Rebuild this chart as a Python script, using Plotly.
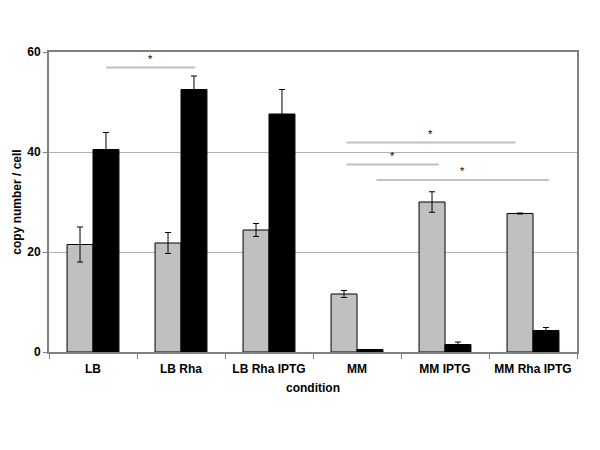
import plotly.graph_objects as go

conditions = ["LB", "LB Rha", "LB Rha IPTG", "MM", "MM IPTG", "MM Rha IPTG"]
gray_vals = [21.5, 21.8, 24.4, 11.6, 30.0, 27.7]
gray_err = [3.5, 2.1, 1.3, 0.7, 2.05, 0.1]
black_vals = [40.5, 52.5, 47.6, 0.5, 1.5, 4.3]
black_err = [3.4, 2.7, 4.9, 0.0, 0.5, 0.6]

# significance brackets: x0, x1 (category units), y
sig_x0 = [0.15, 2.88, 2.88, 3.22]
sig_x1 = [1.16, 4.80, 3.93, 5.18]
sig_y = [56.9, 41.9, 37.5, 34.4]

font = "Liberation Sans, Arial, sans-serif"

fig = go.Figure()
fig.add_bar(x=conditions, y=gray_vals,
            marker=dict(color="#c0c0c0", line=dict(color="black", width=1)),
            error_y=dict(type="data", array=gray_err, visible=True, color="black", thickness=1, width=3))
fig.add_bar(x=conditions, y=black_vals,
            marker=dict(color="black", line=dict(color="black", width=1)),
            error_y=dict(type="data", array=black_err, visible=True, color="black", thickness=1, width=3))

for x0, x1, y in zip(sig_x0, sig_x1, sig_y):
    fig.add_shape(type="line", xref="x", yref="y", x0=x0, x1=x1, y0=y, y1=y,
                  line=dict(color="#c0c0c0", width=2))
    fig.add_annotation(x=(x0 + x1) / 2, y=y, xref="x", yref="y", text="*", showarrow=False,
                       yshift=9, font=dict(family=font, size=11, color="black"))

fig.update_layout(
    width=600, height=450,
    margin=dict(l=41, r=31, t=44, b=106, autoexpand=False),
    paper_bgcolor="white", plot_bgcolor="white",
    barmode="group", bargap=0.41, bargroupgap=0,
    showlegend=False,
    font=dict(family=font, size=12, color="black"),
)
fig.update_xaxes(
    automargin=False,
    title=dict(text="<b>condition</b>", font=dict(family=font, size=12), standoff=8),
    tickfont=dict(family=font, size=12),
    tickvals=conditions, ticktext=["<b>%s</b>" % c for c in conditions],
    ticklabelstandoff=5,
    showline=True, linecolor="#808080", linewidth=2, mirror=True,
    ticks="outside", tickson="boundaries", ticklen=5, tickcolor="#808080",
    showgrid=False,
)
fig.update_yaxes(
    automargin=False,
    title=dict(text="<b>copy number / cell</b>", font=dict(family=font, size=12), standoff=3),
    range=[0, 60], tickvals=[0, 20, 40, 60], ticktext=["<b>0</b>", "<b>20</b>", "<b>40</b>", "<b>60</b>"],
    tickfont=dict(family=font, size=12),
    showline=True, linecolor="#808080", linewidth=2, mirror=True,
    ticks="outside", ticklen=4, tickcolor="#808080",
    showgrid=True, gridcolor="#b0b0b0", gridwidth=1,
    zeroline=False,
)

fig.write_html("out.html")
